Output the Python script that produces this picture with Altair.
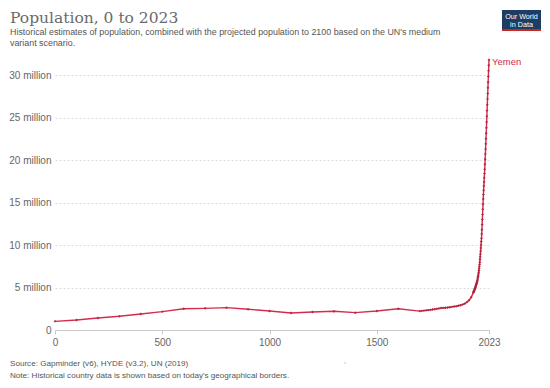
import altair as alt
import pandas as pd

years = [0, 100, 200, 300, 400, 500, 600, 700, 800, 900, 1000, 1100, 1200, 1300, 1400, 1500, 1600, 1700,
         1710, 1720, 1730, 1740, 1750, 1760, 1770, 1780, 1790,
         1800, 1810, 1820, 1830, 1840, 1850, 1860, 1870, 1880, 1890, 1900, 1910, 1920, 1930, 1940,
         1950, 1951, 1952, 1953, 1954, 1955, 1956, 1957, 1958, 1959,
         1960, 1961, 1962, 1963, 1964, 1965, 1966, 1967, 1968, 1969,
         1970, 1971, 1972, 1973, 1974, 1975, 1976, 1977, 1978, 1979,
         1980, 1981, 1982, 1983, 1984, 1985, 1986, 1987, 1988, 1989,
         1990, 1991, 1992, 1993, 1994, 1995, 1996, 1997, 1998, 1999,
         2000, 2001, 2002, 2003, 2004, 2005, 2006, 2007, 2008, 2009,
         2010, 2011, 2012, 2013, 2014, 2015, 2016, 2017, 2018, 2019,
         2020, 2021, 2022, 2023]
pop_millions = [1.02, 1.18, 1.41, 1.61, 1.89, 2.16, 2.50, 2.55, 2.63, 2.44, 2.24, 2.00, 2.12, 2.20, 2.04, 2.24, 2.50, 2.22,
                2.25, 2.28, 2.31, 2.34, 2.37, 2.41, 2.45, 2.49, 2.54,
                2.59, 2.60, 2.62, 2.64, 2.68, 2.72, 2.76, 2.80, 2.85, 2.92, 2.99, 3.10, 3.28, 3.50, 3.85,
                4.40, 4.46, 4.52, 4.58, 4.64, 4.71, 4.78, 4.85, 4.92, 5.00,
                5.07, 5.15, 5.23, 5.31, 5.39, 5.48, 5.57, 5.66, 5.76, 5.86,
                6.00, 6.15, 6.30, 6.45, 6.62, 6.80, 7.00, 7.22, 7.45, 7.70,
                7.98, 8.30, 8.62, 8.95, 9.30, 9.65, 10.00, 10.40, 10.80, 11.30,
                11.80, 12.40, 13.00, 13.60, 14.20, 14.80, 15.40, 15.95, 16.45, 16.95,
                17.41, 17.90, 18.40, 18.90, 19.50, 20.10, 20.70, 21.30, 21.90, 22.50,
                23.15, 23.80, 24.47, 25.15, 25.82, 26.50, 27.17, 27.83, 28.50, 29.16,
                29.83, 30.49, 31.15, 31.80]

country = "Yemen"
title_text = "Population, 0 to 2023"
subtitle_lines = ["Historical estimates of population, combined with the projected population to 2100 based on the UN's medium",
                  "variant scenario."]
footer_lines = ["Source: Gapminder (v6), HYDE (v3.2), UN (2019)",
                "Note: Historical country data is shown based on today's geographical borders."]
x_ticks = [0, 500, 1000, 1500, 2023]
y_ticks = [0, 5e6, 10e6, 15e6, 20e6, 25e6, 30e6]

df = pd.DataFrame({"year": years, "pop": [v * 1e6 for v in pop_millions], "country": country})

W, H = 434, 272
RED = "#d42c4b"
FONT = "Liberation Sans"

x = alt.X("year:Q", scale=alt.Scale(domain=[0, 2023], nice=False, zero=False),
          axis=alt.Axis(values=x_ticks, title=None, grid=False, labelFont=FONT, labelFontSize=10,
                        labelColor="#666", domainColor="#ccc", tickColor="#ccc", tickSize=4,
                        labelPadding=3, labelFlush=False, format="d"))
y = alt.Y("pop:Q", scale=alt.Scale(domain=[0, 32e6], nice=False),
          axis=alt.Axis(values=y_ticks, title=None, domain=False, ticks=False, labelFont=FONT,
                        labelFontSize=10, labelColor="#666", labelPadding=4, gridColor="#ddd",
                        gridDash=[2, 2], labelExpr="datum.value == 0 ? '0' : (datum.value/1e6) + ' million'"))

line = alt.Chart(df).mark_line(color=RED, strokeWidth=1.4).encode(x=x, y=y)
pts = alt.Chart(df).mark_point(shape="cross", size=6, color="#b0203c", filled=True, opacity=0.9).encode(x="year:Q", y="pop:Q")

label = alt.Chart(df.tail(1)).mark_text(align="left", baseline="middle", dx=3, dy=2, font=FONT,
                                         fontSize=9.5, color=RED).encode(x="year:Q", y="pop:Q", text="country:N")

def txt(s, xp, yp, size, color="#555", font=FONT, align="left", weight="normal"):
    return alt.Chart(pd.DataFrame({"t": [s]})).mark_text(
        align=align, baseline="alphabetic", font=font, fontSize=size, color=color, fontWeight=weight
    ).encode(x=alt.value(xp), y=alt.value(yp), text="t:N")

title = txt(title_text, -45, -35.5, 15.5, color="#6a6a6a", font="DejaVu Serif")
sub1 = txt(subtitle_lines[0], -45, -23, 8.9)
sub2 = txt(subtitle_lines[1], -45, -12, 8.9)
foot1 = txt(footer_lines[0], -45, 308, 8.1)
foot2 = txt(footer_lines[1], -45, 320, 8.1)

logo_bg = alt.Chart(pd.DataFrame({"a": [1]})).mark_rect(color="#1d3d63").encode(
    x=alt.value(447), x2=alt.value(486), y=alt.value(-48), y2=alt.value(-29))
logo_bar = alt.Chart(pd.DataFrame({"a": [1]})).mark_rect(color="#ce261e").encode(
    x=alt.value(447), x2=alt.value(486), y=alt.value(-29), y2=alt.value(-27))
logo1 = txt("Our World", 466.5, -39, 7.2, color="white", align="center")
logo2 = txt("in Data", 466.5, -31.5, 7.2, color="white", align="center")
dot = alt.Chart(pd.DataFrame({"a": [1]})).mark_circle(color="#999", size=2).encode(
    x=alt.value(290), y=alt.value(305))

chart = alt.layer(line, pts, label, title, sub1, sub2, foot1, foot2, logo_bg, logo_bar, logo1, logo2, dot).properties(
    width=W, height=H,
    autosize=alt.AutoSizeParams(type="none"),
    padding={"left": 47, "top": 50, "right": 53, "bottom": 50},
).configure_view(stroke=None)

chart.save("out.html", embed_options={"renderer": "svg", "actions": False})
